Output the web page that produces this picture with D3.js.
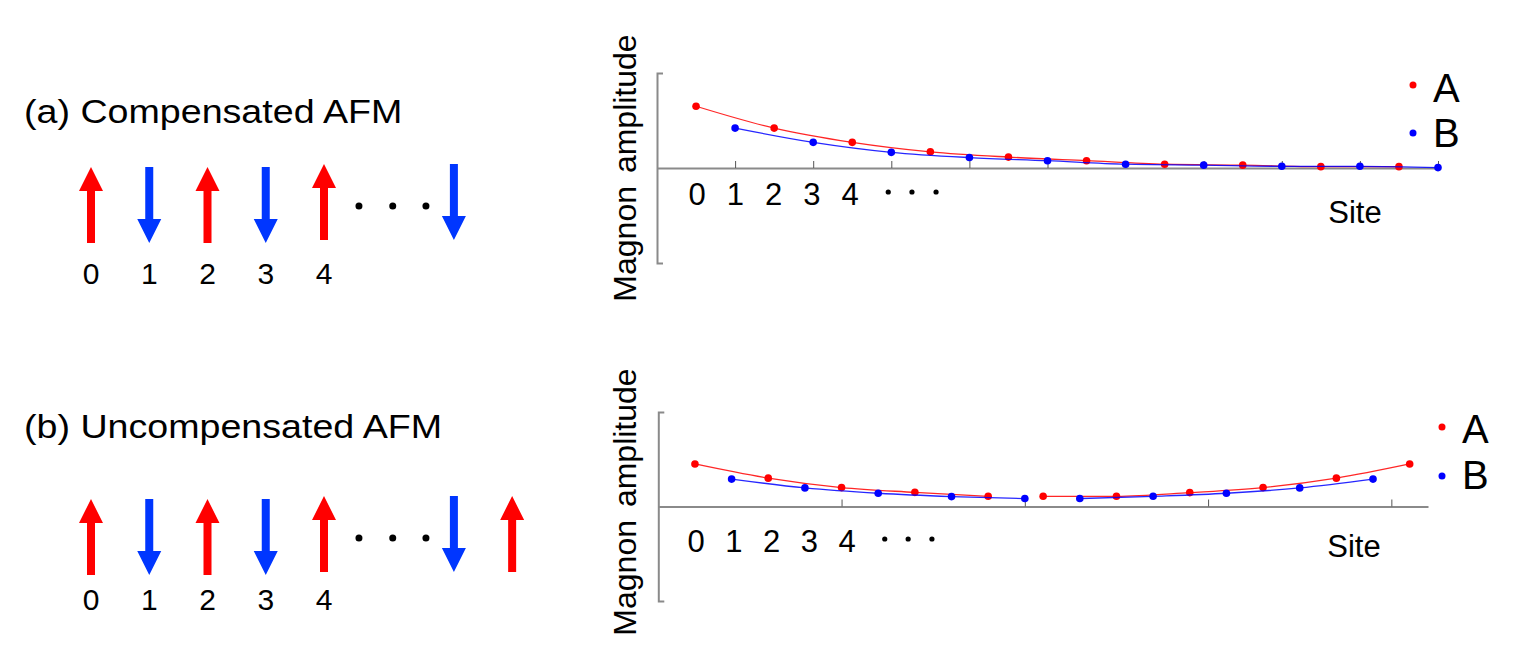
<!DOCTYPE html>
<html>
<head>
<meta charset="utf-8">
<script src="https://cdn.jsdelivr.net/npm/d3@7"></script>
<style>
 body { margin: 0; background: #fff; }
 text { font-family: "Liberation Sans", Arial, sans-serif; fill: #000; }
</style>
</head>
<body>
<div id="fig"></div>
<script>
// ---- data ----
var chainLabels = ["0", "1", "2", "3", "4"];
var spinsHead = [1, -1, 1, -1, 1];        // up / down for sites 0..4
var spinsTailA = [-1];                    // after the dots, (a)
var spinsTailB = [-1, 1];                 // after the dots, (b)
var siteLabels = ["0", "1", "2", "3", "4"];
var legendNames = ["A", "B"];

// (a) compensated: magnon amplitude per site
var sitesA_a = [0, 2, 4, 6, 8, 10, 12, 14, 16, 18];
var ampA_a   = [0.65, 0.42, 0.27, 0.17, 0.115, 0.077, 0.04, 0.03, 0.014, 0.014];
var sitesB_a = [1, 3, 5, 7, 9, 11, 13, 15, 17, 19];
var ampB_a   = [0.42, 0.27, 0.165, 0.11, 0.077, 0.04, 0.03, 0.018, 0.018, 0.004];

// (b) uncompensated: two halves
var sitesA_b1 = [0, 2, 4, 6, 8];
var ampA_b1   = [0.45, 0.30, 0.20, 0.15, 0.108];
var sitesB_b1 = [1, 3, 5, 7, 9];
var ampB_b1   = [0.29, 0.197, 0.14, 0.105, 0.084];
var sitesA_b2 = [9.5, 11.5, 13.5, 15.5, 17.5, 19.5];
var ampA_b2   = [0.108, 0.108, 0.147, 0.20, 0.30, 0.45];
var sitesB_b2 = [10.5, 12.5, 14.5, 16.5, 18.5];
var ampB_b2   = [0.084, 0.108, 0.14, 0.197, 0.29];

var RED = "#ff0000", BLUE = "#0000ff", ARROW_BLUE = "#0036ff";

function zip(s, a) { return s.map(function(d, i) { return {site: d, amp: a[i]}; }); }

var svg = d3.select("#fig").append("svg").attr("width", 1522).attr("height", 656);

function arrow(cx, cy, dir) {
  var L = 76, hl = 24, hw = 12, sw = 4;
  var tip = cy - dir * L / 2, base = cy + dir * L / 2, neck = tip + dir * hl;
  var p = d3.path();
  p.moveTo(cx - sw, base); p.lineTo(cx - sw, neck); p.lineTo(cx - hw, neck);
  p.lineTo(cx, tip); p.lineTo(cx + hw, neck); p.lineTo(cx + sw, neck);
  p.lineTo(cx + sw, base); p.closePath();
  return p.toString();
}

function drawChain(o) {
  var g = svg.append("g");
  var slot = d3.scaleLinear().domain([0, 4]).range([91, 324]);

  g.append("text").attr("transform", "translate(24," + o.titleY + ") scale(1.14,1)")
    .style("font-size", "33px").text(o.title);

  var spins = spinsHead.map(function(s, i) { return {slot: i, s: s}; })
    .concat(o.tail.map(function(s, i) { return {slot: 6.23 + i, s: s}; }));
  g.selectAll(".arr").data(spins).enter().append("path")
    .attr("d", function(d) { return arrow(slot(d.slot), o.cy - (d.slot >= 4 ? 3 : 0), d.s); })
    .attr("fill", function(d) { return d.s > 0 ? RED : ARROW_BLUE; });

  g.selectAll(".cdot").data([4.6, 5.18, 5.75]).enter().append("circle")
    .attr("cx", function(d) { return slot(d); }).attr("cy", o.cy + 1).attr("r", 3.5).attr("fill", "#000");

  g.selectAll(".clab").data(chainLabels).enter().append("text")
    .attr("x", function(d, i) { return slot(i); }).attr("y", o.labY)
    .attr("text-anchor", "middle").style("font-size", "30px").text(function(d) { return d; });
}

function drawPlot(o) {
  var g = svg.append("g");
  var x = d3.scaleLinear().domain(o.xDomain).range(o.xRange);
  var y = d3.scaleLinear().domain([-1, 1]).range(o.yRange);

  // y bracket
  g.append("g").attr("transform", "translate(" + o.xRange[0] + ",0)")
    .call(d3.axisRight(y).tickValues([]).tickSizeOuter(6))
    .call(function(a) { a.select(".domain").attr("stroke", "#8a8a8a").attr("stroke-width", 2); });

  // x axis with upward ticks
  g.append("g").attr("transform", "translate(0," + y(0) + ")")
    .call(d3.axisTop(x).tickValues(o.ticks).tickSize(7).tickSizeOuter(0).tickFormat(""))
    .call(function(a) {
      a.select(".domain").attr("stroke", "#8a8a8a").attr("stroke-width", 2);
      a.selectAll(".tick line").attr("stroke", "#555");
    });

  var line = d3.line().x(function(d) { return x(d.site); }).y(function(d) { return y(d.amp); })
    .curve(d3.curveMonotoneX);

  o.series.forEach(function(s) {
    var pts = zip(s.sites, s.amps);
    g.append("path").datum(pts).attr("d", line).attr("fill", "none")
      .attr("stroke", s.color).attr("stroke-width", 1.3).attr("stroke-opacity", 0.85);
    g.selectAll(null).data(pts).enter().append("circle")
      .attr("cx", function(d) { return x(d.site); }).attr("cy", function(d) { return y(d.amp); })
      .attr("r", 3.8).attr("fill", s.color);
  });

  // site numbers under the axis
  var lx = d3.scaleLinear().domain([0, 4]).range(o.labRange);
  g.selectAll(".slab").data(siteLabels).enter().append("text")
    .attr("x", function(d, i) { return lx(i); }).attr("y", o.labY)
    .attr("text-anchor", "middle").style("font-size", "31px").text(function(d) { return d; });
  g.selectAll(".sdot").data([5.0, 5.62, 6.25]).enter().append("circle")
    .attr("cx", function(d) { return lx(d); }).attr("cy", o.labY - 13).attr("r", 2.6).attr("fill", "#000");

  g.append("text").attr("x", o.siteX).attr("y", o.siteY).attr("text-anchor", "middle")
    .style("font-size", "31px").text("Site");

  g.append("text").attr("transform", "translate(636," + o.ylabY + ") rotate(-90)")
    .attr("text-anchor", "middle").style("font-size", "32px").style("word-spacing", "4px")
    .text("Magnon amplitude");

  // legend
  legendNames.forEach(function(n, i) {
    g.append("circle").attr("cx", o.legX).attr("cy", o.legDotY[i]).attr("r", 3.5)
      .attr("fill", i === 0 ? RED : BLUE);
    g.append("text").attr("x", o.legX + 20).attr("y", o.legTextY[i])
      .style("font-size", "40px").text(n);
  });
}

drawChain({title: "(a) Compensated AFM", titleY: 123, cy: 205, labY: 284, tail: spinsTailA});
drawChain({title: "(b) Uncompensated AFM", titleY: 438, cy: 537, labY: 610, tail: spinsTailB});

drawPlot({
  xDomain: [-1, 19], xRange: [657, 1438], yRange: [263, 73],
  ticks: [1, 3, 5, 7, 9, 11, 13, 15, 17, 19],
  series: [
    {sites: sitesA_a, amps: ampA_a, color: RED},
    {sites: sitesB_a, amps: ampB_a, color: BLUE}
  ],
  labRange: [697, 850], labY: 205,
  siteX: 1355, siteY: 223, ylabY: 168,
  legX: 1413, legDotY: [85, 133], legTextY: [102, 147]
});

drawPlot({
  xDomain: [-1, 20], xRange: [658.3, 1428], yRange: [601, 412],
  ticks: [4, 9, 14, 19],
  series: [
    {sites: sitesA_b1, amps: ampA_b1, color: RED},
    {sites: sitesB_b1, amps: ampB_b1, color: BLUE},
    {sites: sitesA_b2, amps: ampA_b2, color: RED},
    {sites: sitesB_b2, amps: ampB_b2, color: BLUE}
  ],
  labRange: [696, 847], labY: 552,
  siteX: 1354, siteY: 557, ylabY: 502,
  legX: 1442, legDotY: [427, 476], legTextY: [443, 489]
});
</script>
</body>
</html>
